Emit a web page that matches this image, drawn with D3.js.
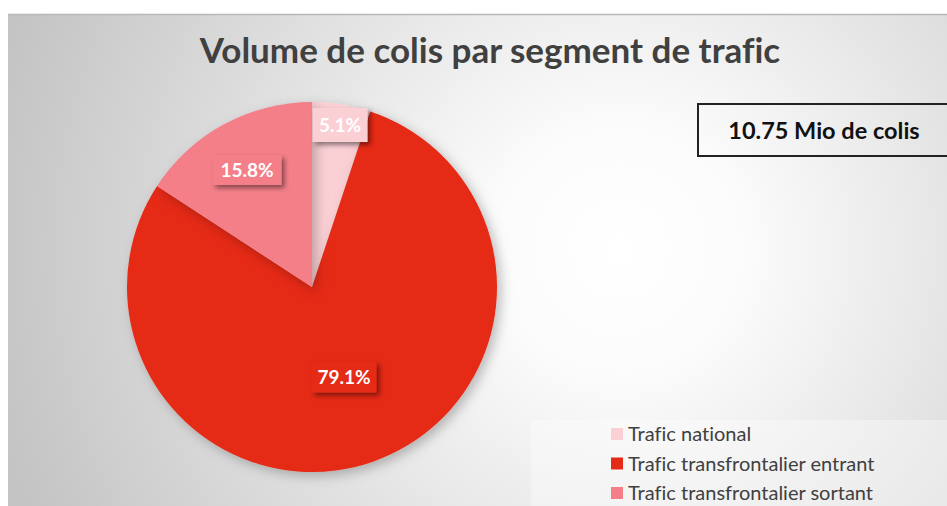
<!DOCTYPE html>
<html><head><meta charset="utf-8">
<script src="https://cdn.jsdelivr.net/npm/d3@7"></script>
<style>html,body{margin:0;padding:0;background:#fff;overflow:hidden} text{font-variant-ligatures:none}</style>
</head><body>
<svg id="c" width="947" height="506"></svg>
<script>
const categories = ["Trafic national", "Trafic transfrontalier entrant", "Trafic transfrontalier sortant"];
const values = [5.1, 79.1, 15.8];
const colors = ["#fbd0d5", "#e52b15", "#f47f89"];
const title = "Volume de colis par segment de trafic";
const totalLabel = "10.75 Mio de colis";

const svg = d3.select("#c");
const font = "Lato, 'Open Sans', sans-serif";
const defs = svg.append("defs");
const rg = defs.append("radialGradient").attr("id","bg").attr("gradientUnits","userSpaceOnUse")
  .attr("cx",620).attr("cy",250).attr("r",640);
rg.append("stop").attr("offset","0").attr("stop-color","#ffffff");
rg.append("stop").attr("offset","0.2").attr("stop-color","#fbfbfb");
rg.append("stop").attr("offset","1").attr("stop-color","#c4c4c4");
const f = defs.append("filter").attr("id","sh").attr("x","-30%").attr("y","-30%").attr("width","170%").attr("height","170%");
f.append("feDropShadow").attr("dx",3).attr("dy",3).attr("stdDeviation",2.5).attr("flood-color","#000").attr("flood-opacity",0.45);
const f2 = defs.append("filter").attr("id","psh").attr("x","-20%").attr("y","-20%").attr("width","140%").attr("height","140%");
f2.append("feDropShadow").attr("dx",4).attr("dy",4).attr("stdDeviation",6).attr("flood-color","#000").attr("flood-opacity",0.25);

svg.append("rect").attr("x",8).attr("y",14).attr("width",939).attr("height",492).attr("fill","url(#bg)");
svg.append("line").attr("x1",8).attr("x2",947).attr("y1",14.5).attr("y2",14.5).attr("stroke","#b8b8b8").attr("stroke-width",1.5);

svg.append("text").attr("x",490).attr("y",63).attr("text-anchor","middle")
  .attr("font-family",font).attr("font-weight","bold").attr("font-size",35).attr("fill","#404040").text(title);

// pie
const cx = 312, cy = 287, R = 185;
const pie = d3.pie().sort(null).value(d=>d)(values);
const arc = d3.arc().innerRadius(0).outerRadius(R);
const g = svg.append("g").attr("transform",`translate(${cx},${cy})`);
g.selectAll("path.s").data(pie).join("path").attr("class","s").attr("d",arc)
  .attr("fill",(d,i)=>colors[i]).attr("filter","url(#psh)");

// labels
const labelPos = [[28,-162],[32,90],[-65,-117]];
const lg = g.selectAll("g.l").data(pie).join("g").attr("class","l")
  .attr("transform",(d,i)=>`translate(${labelPos[i][0]},${labelPos[i][1]})`);
const bw = [55,65,69], bh = [34,31,30];
lg.append("rect").attr("x",(d,i)=>-bw[i]/2).attr("y",(d,i)=>-bh[i]/2).attr("width",(d,i)=>bw[i]).attr("height",(d,i)=>bh[i])
  .attr("fill",(d,i)=>colors[i]).attr("filter","url(#sh)");
lg.append("text").attr("text-anchor","middle").attr("dy","0.36em")
  .attr("font-family",font).attr("font-weight","bold").attr("font-size",19).attr("fill","#fff")
  .text(d=>d.data.toFixed(1)+"%");

// total box
svg.append("rect").attr("x",698).attr("y",104).attr("width",260).attr("height",52)
  .attr("fill","none").attr("stroke","#222").attr("stroke-width",2);
svg.append("text").attr("x",824).attr("y",139).attr("text-anchor","middle")
  .attr("font-family",font).attr("font-weight","bold").attr("font-size",23.5).attr("fill","#111").text(totalLabel);

// legend
svg.append("rect").attr("x",531).attr("y",420).attr("width",416).attr("height",86).attr("fill","#fff").attr("opacity",0.35);
const leg = svg.selectAll("g.lg").data(categories).join("g").attr("class","lg")
  .attr("transform",(d,i)=>`translate(611,${434+i*29.5})`);
leg.append("rect").attr("x",0).attr("y",-6).attr("width",12).attr("height",12).attr("fill",(d,i)=>colors[i]);
leg.append("text").attr("x",17).attr("dy","0.36em").attr("font-family",font).attr("font-size",20).attr("fill","#404040").text(d=>d);
</script>
</body></html>
